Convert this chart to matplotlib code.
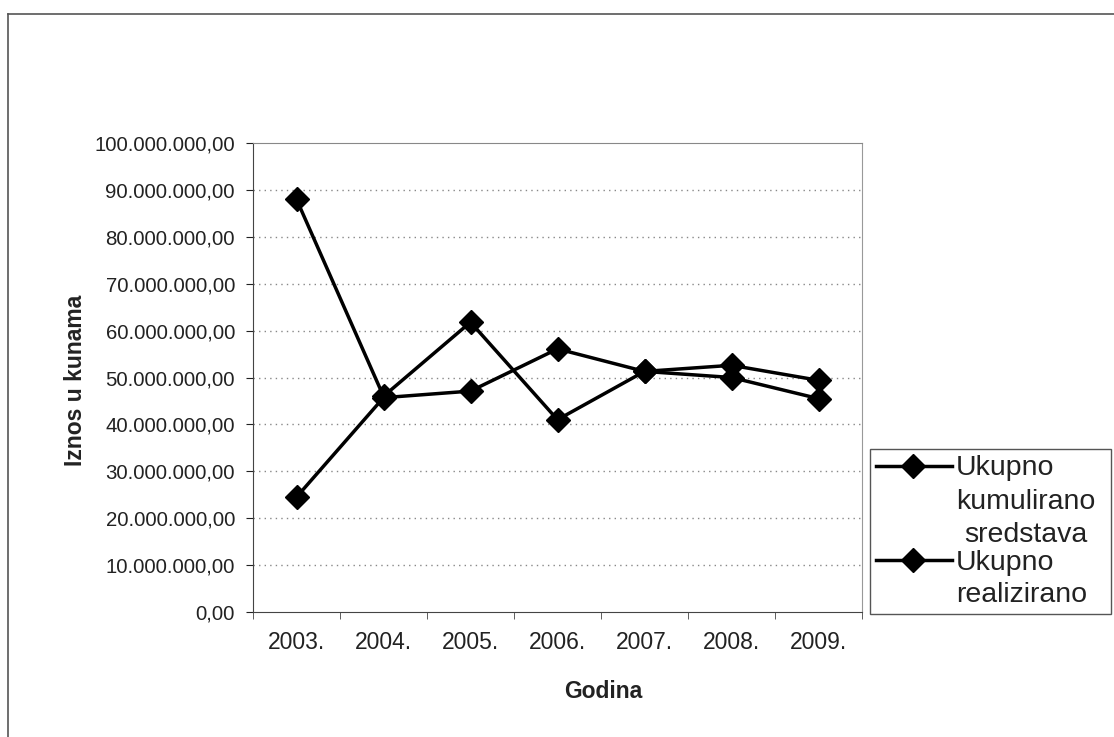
import matplotlib.pyplot as plt
from matplotlib.lines import Line2D
from matplotlib.patches import Rectangle
from matplotlib.ticker import FuncFormatter

plt.rcParams['font.family'] = ['Liberation Sans', 'DejaVu Sans']

# data (in kuna)
years = ['2003.', '2004.', '2005.', '2006.', '2007.', '2008.', '2009.']
kumulirano = [88.0e6, 46.0e6, 61.8e6, 41.0e6, 51.3e6, 50.0e6, 45.5e6]
realizirano = [24.5e6, 45.7e6, 47.1e6, 56.1e6, 51.3e6, 52.6e6, 49.4e6]
yticks = [i * 10e6 for i in range(11)]

W, H = 1114, 737
fig = plt.figure(figsize=(W / 100, H / 100), dpi=100)

def fx(px):
    return px / W

def fy(py):
    return 1 - py / H

# outer chart frame
fig.add_artist(Line2D([fx(8), fx(8)], [fy(14), 0], color='#555555', lw=1.2))
fig.add_artist(Line2D([fx(8), 1], [fy(14), fy(14)], color='#555555', lw=1.2))

ax = fig.add_axes([fx(253), fy(612), fx(862) - fx(253), fy(143) - fy(612)])
x = list(range(len(years)))
ax.plot(x, kumulirano, color='black', lw=2.5, marker='D', markersize=12, zorder=3)
ax.plot(x, realizirano, color='black', lw=2.5, marker='D', markersize=12, zorder=3)

ax.set_xlim(-0.5, len(years) - 0.5)
ax.set_ylim(0, 100e6)
ax.set_yticks(yticks)

def fmt(v, pos):
    s = f"{int(round(v)):,}".replace(',', '.')
    return s + ',00'

ax.yaxis.set_major_formatter(FuncFormatter(fmt))
ax.set_xticks(x)
ax.set_xticklabels(years)
ax.set_xticks([i - 0.5 for i in range(len(years) + 1)], minor=True)
ax.tick_params(axis='x', which='major', length=0, pad=14, labelsize=16.5, colors='#222222')
ax.tick_params(axis='x', which='minor', length=5, direction='out', color='#444444')
ax.tick_params(axis='y', length=5, direction='out', labelsize=14.7, colors='#222222', pad=8)

for v in yticks[1:-1]:
    ax.axhline(v, color='#888888', lw=1.0, ls=(0, (1, 3)), zorder=1)

ax.spines['left'].set_color('#444444')
ax.spines['bottom'].set_color('#444444')
ax.spines['top'].set_color('#888888')
ax.spines['right'].set_color('#999999')

fig.text(fx(75), fy(380), 'Iznos u kunama', rotation=90, ha='center', va='center',
         fontsize=16.5, fontweight='bold', color='#222222')
fig.text(fx(603), fy(692), 'Godina', ha='center', va='center',
         fontsize=16.5, fontweight='bold', color='#222222')

# legend box drawn by hand to keep the original layout
fig.add_artist(Rectangle((fx(870), fy(614)), fx(1111) - fx(870), fy(449) - fy(614),
                         transform=fig.transFigure, facecolor='white',
                         edgecolor='#555555', lw=1.0))
for ly in [466, 560]:
    fig.add_artist(Line2D([fx(876), fx(952)], [fy(ly), fy(ly)], color='black', lw=2.5))
    fig.add_artist(Line2D([fx(913)], [fy(ly)], color='black', marker='D', markersize=12))

legend_lines = [('Ukupno', 956, 468), ('kumulirano', 956, 502), ('sredstava', 964, 535),
                ('Ukupno', 956, 563), ('realizirano', 956, 595)]
for txt, px, py in legend_lines:
    fig.text(fx(px), fy(py), txt, ha='left', va='center', fontsize=20.5, color='#222222')

fig.savefig('out.png', dpi=100)
